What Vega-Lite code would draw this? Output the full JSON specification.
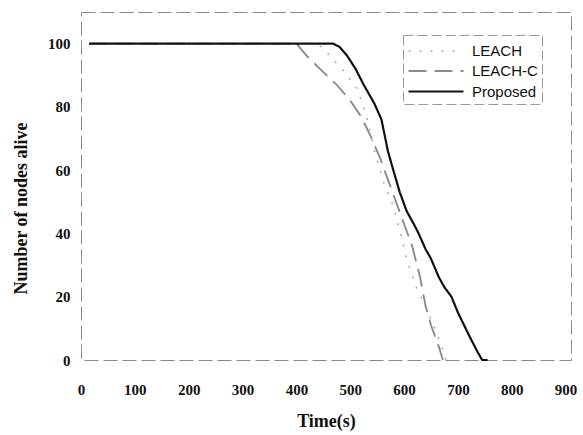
{
  "$schema": "https://vega.github.io/schema/vega-lite/v6.json",
  "width": 490,
  "height": 348,
  "autosize": {"type": "none"},
  "padding": {"left": 81, "top": 12, "right": 12, "bottom": 75},
  "background": "white",
  "config": {
    "view": {"stroke": "#8a8a8a", "strokeWidth": 1, "strokeDash": [14, 5]},
    "axis": {
      "grid": false,
      "ticks": false,
      "domain": false,
      "labelFont": "Liberation Serif",
      "labelFontWeight": "bold",
      "labelFontSize": 15,
      "labelColor": "#111",
      "titleFont": "Liberation Serif",
      "titleFontWeight": "bold",
      "titleFontSize": 18,
      "titleColor": "#111"
    }
  },
  "data": {
    "values": [
      {"series": "LEACH", "time": 15, "alive": 100},
      {"series": "LEACH", "time": 430, "alive": 100},
      {"series": "LEACH", "time": 447, "alive": 99},
      {"series": "LEACH", "time": 468, "alive": 95},
      {"series": "LEACH", "time": 490, "alive": 91},
      {"series": "LEACH", "time": 512, "alive": 86},
      {"series": "LEACH", "time": 525, "alive": 80},
      {"series": "LEACH", "time": 535, "alive": 74},
      {"series": "LEACH", "time": 545, "alive": 66},
      {"series": "LEACH", "time": 564, "alive": 55},
      {"series": "LEACH", "time": 577, "alive": 50},
      {"series": "LEACH", "time": 586, "alive": 45},
      {"series": "LEACH", "time": 595, "alive": 39},
      {"series": "LEACH", "time": 605, "alive": 32},
      {"series": "LEACH", "time": 620, "alive": 24},
      {"series": "LEACH", "time": 640, "alive": 17},
      {"series": "LEACH", "time": 655, "alive": 11},
      {"series": "LEACH", "time": 670, "alive": 4},
      {"series": "LEACH", "time": 678, "alive": 0},
      {"series": "LEACH-C", "time": 15, "alive": 100},
      {"series": "LEACH-C", "time": 400, "alive": 100},
      {"series": "LEACH-C", "time": 420, "alive": 96},
      {"series": "LEACH-C", "time": 450, "alive": 91},
      {"series": "LEACH-C", "time": 475, "alive": 87},
      {"series": "LEACH-C", "time": 500, "alive": 82},
      {"series": "LEACH-C", "time": 520, "alive": 77},
      {"series": "LEACH-C", "time": 540, "alive": 70},
      {"series": "LEACH-C", "time": 555, "alive": 64},
      {"series": "LEACH-C", "time": 570, "alive": 57},
      {"series": "LEACH-C", "time": 585, "alive": 50},
      {"series": "LEACH-C", "time": 600, "alive": 43},
      {"series": "LEACH-C", "time": 615, "alive": 36},
      {"series": "LEACH-C", "time": 630, "alive": 26},
      {"series": "LEACH-C", "time": 640, "alive": 17},
      {"series": "LEACH-C", "time": 650, "alive": 11},
      {"series": "LEACH-C", "time": 665, "alive": 4},
      {"series": "LEACH-C", "time": 672, "alive": 0},
      {"series": "Proposed", "time": 15, "alive": 100},
      {"series": "Proposed", "time": 468, "alive": 100},
      {"series": "Proposed", "time": 480, "alive": 99},
      {"series": "Proposed", "time": 495, "alive": 96},
      {"series": "Proposed", "time": 510, "alive": 92},
      {"series": "Proposed", "time": 525, "alive": 87},
      {"series": "Proposed", "time": 535, "alive": 84},
      {"series": "Proposed", "time": 545, "alive": 81},
      {"series": "Proposed", "time": 558, "alive": 76},
      {"series": "Proposed", "time": 570, "alive": 66},
      {"series": "Proposed", "time": 580, "alive": 60},
      {"series": "Proposed", "time": 592, "alive": 53},
      {"series": "Proposed", "time": 605, "alive": 47},
      {"series": "Proposed", "time": 618, "alive": 43},
      {"series": "Proposed", "time": 627, "alive": 40},
      {"series": "Proposed", "time": 640, "alive": 35},
      {"series": "Proposed", "time": 650, "alive": 32},
      {"series": "Proposed", "time": 665, "alive": 26},
      {"series": "Proposed", "time": 675, "alive": 23},
      {"series": "Proposed", "time": 688, "alive": 20},
      {"series": "Proposed", "time": 700, "alive": 15},
      {"series": "Proposed", "time": 720, "alive": 8},
      {"series": "Proposed", "time": 735, "alive": 3},
      {"series": "Proposed", "time": 745, "alive": 0},
      {"series": "Proposed", "time": 755, "alive": 0}
    ]
  },
  "mark": {"type": "line", "interpolate": "linear"},
  "encoding": {
    "x": {
      "field": "time",
      "type": "quantitative",
      "scale": {"domain": [0, 910], "nice": false, "zero": false},
      "axis": {"values": [0, 100, 200, 300, 400, 500, 600, 700, 800, 900], "labelPadding": 22, "title": "Time(s)", "titlePadding": 15, "labelFlush": false}
    },
    "y": {
      "field": "alive",
      "type": "quantitative",
      "scale": {"domain": [0, 110], "nice": false, "zero": false},
      "axis": {"values": [0, 20, 40, 60, 80, 100], "labelPadding": 11, "title": "Number of nodes alive", "titlePadding": 17, "titleY": 196}
    },
    "color": {
      "field": "series",
      "type": "nominal",
      "scale": {"domain": ["LEACH", "LEACH-C", "Proposed"], "range": ["#a8a8a8", "#8a8a8a", "#111111"]},
      "legend": {
        "title": null,
        "orient": "none",
        "legendX": 322,
        "legendY": 23,
        "symbolType": "M-1,0L4,0",
        "symbolSize": 484,
        "labelFont": "Liberation Sans",
        "labelFontSize": 15,
        "labelColor": "#111",
        "strokeColor": "#999",
        "fillColor": "white",
        "padding": 4,
        "rowPadding": 0,
        "labelOffset": 40,
        "encode": {"legend": {"update": {"strokeDash": {"value": [10, 4]}}}}
      }
    },
    "strokeDash": {
      "field": "series",
      "type": "nominal",
      "scale": {"domain": ["LEACH", "LEACH-C", "Proposed"], "range": [[2, 9], [18, 8], [1, 0]]},
      "legend": null
    },
    "strokeWidth": {
      "field": "series",
      "type": "nominal",
      "scale": {"domain": ["LEACH", "LEACH-C", "Proposed"], "range": [1.5, 2.2, 3]},
      "legend": null
    }
  }
}
